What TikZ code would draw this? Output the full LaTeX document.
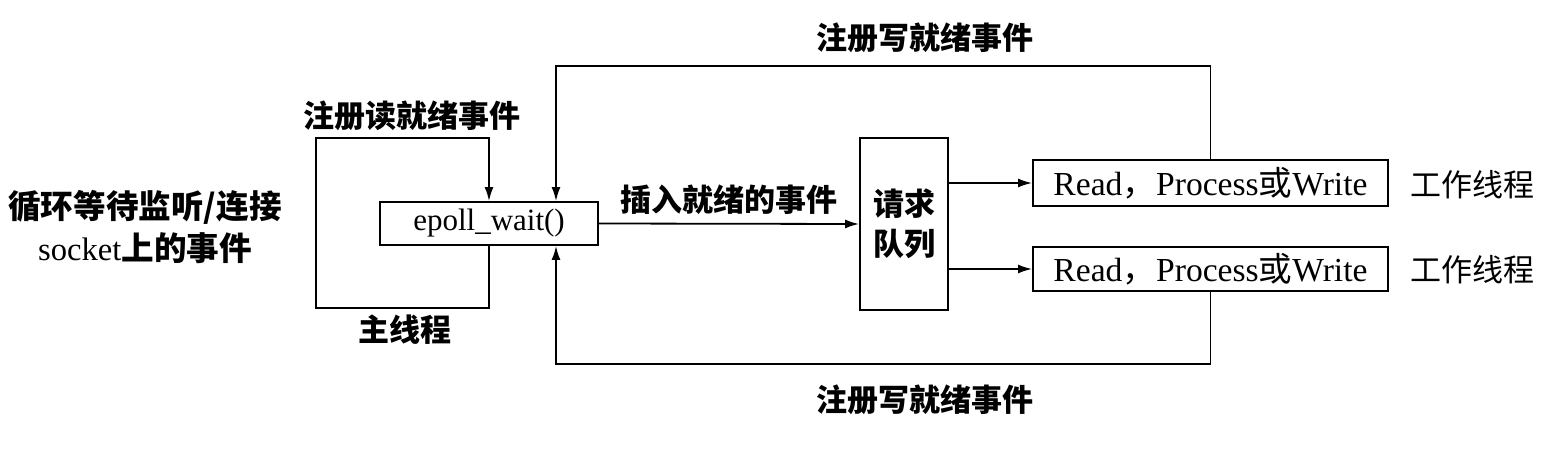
\documentclass[tikz,border=0pt]{standalone}
\usepackage{fontspec}
\setmainfont{Liberation Serif}
\newfontfamily\cjk{Noto Sans CJK SC}
\newcommand{\zh}[1]{{\cjk #1}}
\newcommand{\zhb}[1]{{\cjk\bfseries #1}}
\usetikzlibrary{arrows.meta}

\tikzset{
  box/.style={draw, line width=0.9pt, inner sep=0pt},
  link/.style={line width=0.9pt, -{Latex[length=7pt,width=4.5pt]}},
  tag/.style={draw=none, inner sep=0pt}
}

\begin{document}
\begin{tikzpicture}[x=0.5pt, y=-0.5pt, font=\fontsize{15.5}{19}\selectfont]
  \useasboundingbox (0,0) rectangle (1558,460);

  % boxes
  \node[box, minimum width=109pt, minimum height=21.5pt] (epoll) at (489,223.5) {epoll\_wait()};
  \node[box, minimum width=44pt, minimum height=86pt, align=center] (queue) at (904,224) {\zhb{请求}\\[1pt]\zhb{队列}};
  \node[box, minimum width=177.5pt, minimum height=23pt, font=\fontsize{16.8}{19}\selectfont] (w1) at (1210.5,183) {Read\zh{，}Process\zh{或}Write};
  \node[box, minimum width=177.5pt, minimum height=22pt, font=\fontsize{16.8}{19}\selectfont] (w2) at (1210.5,269) {Read\zh{，}Process\zh{或}Write};

  % labels
  \node[tag, align=center, font=\fontsize{16.3}{19}\selectfont] (loop) at (145,227) {\zhb{循环等待监听/连接}\\[2pt]socket\zhb{上的事件}};
  \node[tag] (rdlab) at (412,116) {\zhb{注册读就绪事件}};
  \node[tag] (mainlab) at (405,330) {\zhb{主线程}};
  \node[tag] (wrtop) at (925,38) {\zhb{注册写就绪事件}};
  \node[tag] (wrbot) at (925,400) {\zhb{注册写就绪事件}};
  \node[tag] (t1) at (1472,185) {\zh{工作线程}};
  \node[tag] (t2) at (1472,270) {\zh{工作线程}};

  \coordinate (lb) at (316,308);
  \coordinate (lt) at (316,138);
  \coordinate (up) at (556,66);
  \coordinate (dn) at (556,364);

  % main thread loop
  \draw[link] (epoll.south) |- (lb) -- (lt) -| (epoll.north);

  % queue in and out
  \draw[link] (epoll.east) -- node[above=1pt] {\zhb{插入就绪的事件}} (queue.west);
  \draw[link] (queue.east |- w1.west) -- (w1.west);
  \draw[link] (queue.east |- w2.west) -- (w2.west);

  % write events back
  \draw[link] (w1.north) |- (up) -- (up |- epoll.north);
  \draw[link] (w2.south) |- (dn) -- (dn |- epoll.south);
\end{tikzpicture}
\end{document}
